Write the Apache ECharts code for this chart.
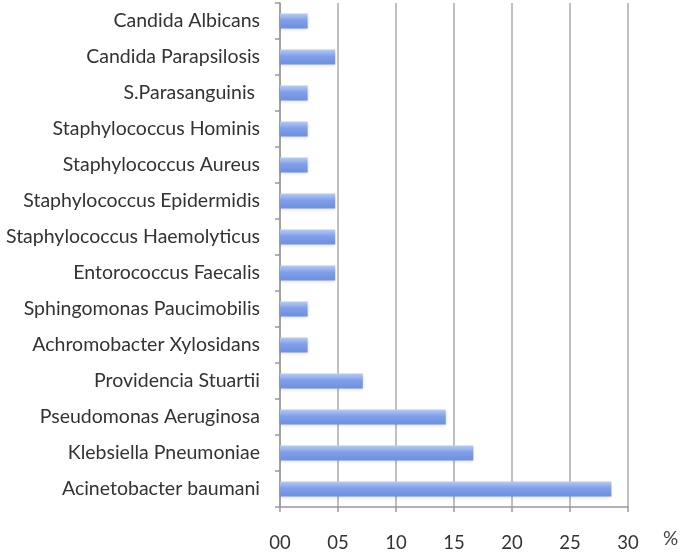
<!DOCTYPE html>
<html>
<head>
<meta charset="utf-8">
<script src="https://cdn.jsdelivr.net/npm/echarts@6/dist/echarts.min.js"></script>
<style>html,body{margin:0;padding:0;background:#fff;}#c{width:685px;height:556px;}</style>
</head>
<body>
<div id="c"></div>
<script>
const categories = [
  "Acinetobacter baumani",
  "Klebsiella Pneumoniae",
  "Pseudomonas Aeruginosa",
  "Providencia Stuartii",
  "Achromobacter Xylosidans",
  "Sphingomonas Paucimobilis",
  "Entorococcus Faecalis",
  "Staphylococcus Haemolyticus",
  "Staphylococcus Epidermidis",
  "Staphylococcus Aureus",
  "Staphylococcus Hominis",
  "S.Parasanguinis ",
  "Candida Parapsilosis",
  "Candida Albicans"
];
const values = [28.57, 16.67, 14.29, 7.14, 2.38, 2.38, 4.76, 4.76, 4.76, 2.38, 2.38, 2.38, 4.76, 2.38];
const xTicks = [0, 5, 10, 15, 20, 25, 30];

const chart = echarts.init(document.getElementById('c'), null, {renderer: 'canvas'});
const font = 'Lato, "Open Sans", sans-serif';
chart.setOption({
  animation: false,
  backgroundColor: '#fff',
  grid: {left: 280, right: 57, top: 3, bottom: 49, containLabel: false},
  xAxis: {
    type: 'value', min: xTicks[0], max: xTicks[xTicks.length - 1], interval: 5,
    name: '%', nameLocation: 'end', nameGap: 35,
    nameTextStyle: {color: '#444', fontSize: 19, fontFamily: font, align: 'left', verticalAlign: 'top', padding: [22, 0, 0, 0]},
    axisLine: {show: true, lineStyle: {color: '#999', width: 1.5}},
    axisTick: {show: true, length: 5, lineStyle: {color: '#999', width: 1.5}},
    axisLabel: {color: '#333', fontSize: 18.5, fontFamily: font, margin: 27,
      formatter: v => String(v).padStart(2, '0')},
    splitLine: {show: true, lineStyle: {color: '#aaa', width: 1.5}}
  },
  yAxis: {
    type: 'category', data: categories,
    axisLine: {show: true, lineStyle: {color: '#999', width: 1.5}},
    axisTick: {show: true, length: 5, inside: false, lineStyle: {color: '#999', width: 1.5}},
    axisLabel: {color: '#333', fontSize: 19.5, fontFamily: font, margin: 20},
    splitLine: {show: false}
  },
  series: [{
    type: 'bar', data: values, barWidth: 15,
    itemStyle: {
      color: new echarts.graphic.LinearGradient(0, 0, 0, 1, [
        {offset: 0, color: '#b9cbf6'},
        {offset: 0.45, color: '#7f9fe9'},
        {offset: 1, color: '#6f8fdc'}
      ]),
      shadowColor: 'rgba(0,0,0,0.15)', shadowBlur: 3, shadowOffsetY: 1
    }
  }]
});
</script>
</body>
</html>
